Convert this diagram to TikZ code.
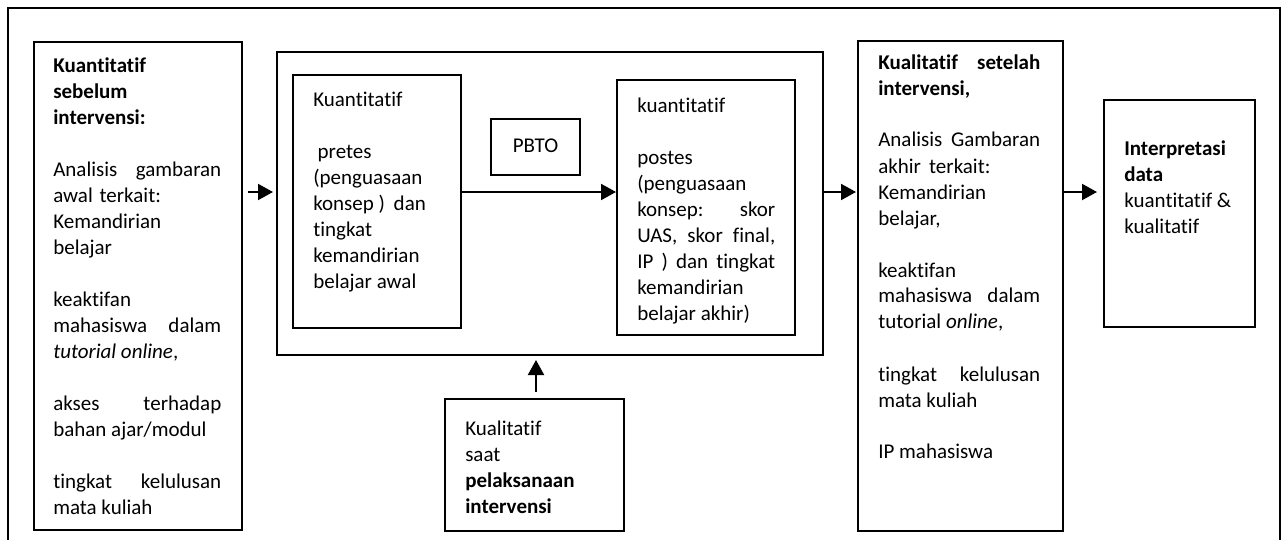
\documentclass[tikz,border=0pt]{standalone}
\usepackage{fontspec}
\setmainfont{Carlito}[Ligatures={NoCommon}]
\usetikzlibrary{arrows.meta}
\newcommand{\jl}[2]{\leavevmode\hbox to #1{#2}}
\newcommand{\ns}{\spaceskip=0pt\xspaceskip=0pt\relax}
\begin{document}
\begin{tikzpicture}[
  x=0.75pt, y=-0.75pt,
  font=\fontsize{15.75pt}{19.5pt}\selectfont,
  box/.style={draw, line width=1.5pt, inner sep=0pt, anchor=north west},
  txt/.style={inner sep=0pt, anchor=base west},
  arr/.style={line width=1.5pt, -{Triangle[length=11.25pt,width=12pt]}},
  frame/.style={line width=1.5pt}
]
\useasboundingbox (0,0) rectangle (1285,539);
% outer frame (bottom edge lies outside the picture)
\draw[frame] (8,541) -- (8,8) -- (1280,8) -- (1280,541);

% boxes
\node[box, minimum width=156pt, minimum height=366pt] (L) at (33,41) {};
\node[box, minimum width=409.5pt, minimum height=227.25pt] (M) at (276,51) {};
\node[box, minimum width=126pt, minimum height=189.75pt] (ML) at (292,74) {};
\node[box, minimum width=66.75pt, minimum height=42pt] (P) at (490,118) {\raisebox{1.5pt}{PBTO}};
\node[box, minimum width=133.5pt, minimum height=191.25pt] (MR) at (616,79) {};
\node[box, minimum width=134.25pt, minimum height=99pt] (B) at (444,398) {};
\node[box, minimum width=153.75pt, minimum height=367.5pt] (R) at (857,40) {};
\node[box, minimum width=113.25pt, minimum height=170.25pt] (I) at (1103,99) {};

% texts
\node[txt, text width=126pt] (Lt) at (53,72) {\ns
\textbf{Kuantitatif}\\
\textbf{sebelum}\\
\textbf{intervensi:}\\[19.5pt]
\jl{126pt}{Analisis\hfill gambaran}\\
awal\hspace{1.5pt} terkait:\\
Kemandirian\\
belajar\\[19.5pt]
keaktifan\\
\jl{126pt}{mahasiswa\hfill dalam}\\
\textit{tutorial online},\\[19.5pt]
\jl{126pt}{akses\hfill terhadap}\\
bahan ajar/modul\\[19.5pt]
\jl{126pt}{tingkat\hfill kelulusan}\\
mata kuliah};

\node[txt, text width=94.5pt] (MLt) at (313,106) {\ns
Kuantitatif\\[19.5pt]
\hspace*{3.3pt}pretes\\
(penguasaan\\
konsep )\hspace{3pt} dan\\
tingkat\\
kemandirian\\
belajar awal};

\node[txt, text width=103.5pt] (MRt) at (637,112) {\ns
kuantitatif\\[19.5pt]
postes\\
(penguasaan\\
\jl{103.5pt}{konsep:\hfill skor}\\
\jl{103.5pt}{UAS,\hfill skor\hfill final,}\\
\jl{103.5pt}{IP\hfill )\hfill dan\hfill tingkat}\\
kemandirian\\
belajar akhir)};

\node[txt, text width=102.75pt] (Bt) at (465,435) {\ns
Kualitatif\\
saat\\
\textbf{pelaksanaan}\\
\textbf{intervensi}};

\node[txt, text width=121.5pt] (Rt) at (878,69) {\ns
\jl{121.5pt}{\textbf{Kualitatif}\hfill\textbf{setelah}}\\
\textbf{intervensi,}\\[19.5pt]
\jl{121.5pt}{Analisis\hfill Gambaran}\\
akhir\hspace{2.5pt} terkait:\\
Kemandirian\\
belajar,\\[19.5pt]
keaktifan\\
\jl{121.5pt}{mahasiswa\hfill dalam}\\
tutorial \textit{online},\\[19.5pt]
\jl{121.5pt}{tingkat\hfill kelulusan}\\
mata kuliah\\[19.5pt]
IP mahasiswa};

\node[txt, text width=87pt] (It) at (1124,155) {\ns
\textbf{Interpretasi}\\
\textbf{data}\\
kuantitatif \&\\
kualitatif};

% connectors
\coordinate (lvl) at (0,192);
\coordinate (upx) at (536,0);
\draw[arr, shorten <=3.75pt, shorten >=2.25pt] (L.east |- lvl) -- (M.west |- lvl);
\draw[arr] (ML.east |- lvl) -- (MR.west |- lvl);
\draw[arr, shorten >=0.75pt] (M.east |- lvl) -- (R.west |- lvl);
\draw[arr, shorten >=4.5pt] (R.east |- lvl) -- (I.west |- lvl);
\draw[arr, shorten <=4.5pt, shorten >=3pt] (B.north -| upx) -- (M.south -| upx);
\end{tikzpicture}
\end{document}
